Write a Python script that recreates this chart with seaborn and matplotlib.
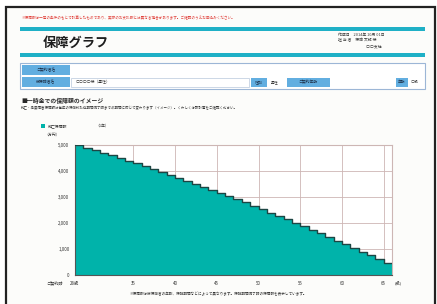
import matplotlib
matplotlib.use("Agg")
import matplotlib.pyplot as plt
from matplotlib.patches import Rectangle
import seaborn as sns

# data (万円, by age)
ages = list(range(28, 67))
coverage = [5000, 4900, 4800, 4700, 4600, 4500, 4400, 4290, 4180, 4070,
            3960, 3850, 3740, 3630, 3510, 3390, 3270, 3150, 3030, 2910,
            2790, 2660, 2530, 2400, 2270, 2140, 2010, 1880, 1740, 1600,
            1460, 1320, 1180, 1040, 900, 760, 620, 480, 480]
y_ticks = [0, 1000, 2000, 3000, 4000, 5000]
y_labels = ["0", "1,000", "2,000", "3,000", "4,000", "5,000"]
x_ticks = [28, 35, 40, 45, 50, 55, 60, 65]
x_labels = ["28歳", "35", "40", "45", "50", "55", "60", "65"]

sns.set_theme(style="white")
plt.rcParams["font.family"] = ["Noto Sans CJK JP", "DejaVu Sans"]

teal = "#00b3aa"
bar_col = "#1fb0c6"
cell_blue = "#62aee0"
grid_col = "#cdb6b4"

W, H = 437, 304
fig = plt.figure(figsize=(W / 100, H / 100), dpi=100)

# page background drawn in pixel coordinates
bg = fig.add_axes([0, 0, 1, 1])
bg.set_xlim(0, W)
bg.set_ylim(H, 0)
bg.axis("off")
bg.add_patch(Rectangle((6, 7), 429, 310, facecolor="#fcfcfa", edgecolor="#222222", lw=1.6))

# header
bg.text(22, 18, "※保障額は一定の条件のもとで計算したものであり、実際のお支払額とは異なる場合があります。ご確認のうえお申込みください。",
        color="#e0403a", fontsize=2.6, va="center")
bg.add_patch(Rectangle((20, 26.5), 405, 4, color=bar_col, lw=0))
bg.text(43, 43, "保障グラフ", fontsize=9.5, fontweight="bold", color="#1e1e1e", va="center")
for i, line in enumerate(["作成日　2014年 10月 01日", "担 当 者　保険 太郎 様", "　　　　　　　 ○○支社"]):
    bg.text(338, 35 + i * 5.5, line, fontsize=2.8, color="#333333", va="center")
bg.add_patch(Rectangle((20, 53), 405, 4, color=bar_col, lw=0))

# info box
bg.add_patch(Rectangle((20, 63), 405, 26, facecolor="white", edgecolor="#9cb6d6", lw=0.8))
bg.add_patch(Rectangle((22, 65), 48, 10, color=cell_blue, lw=0))
bg.text(46, 70, "ご契約者名", fontsize=2.8, ha="center", va="center", color="#1c2c44")
bg.add_patch(Rectangle((22, 77), 48, 10, color=cell_blue, lw=0))
bg.text(46, 82, "被保険者名", fontsize=2.8, ha="center", va="center", color="#1c2c44")
bg.add_patch(Rectangle((71, 77.5), 178, 9, facecolor="white", edgecolor="#b8c8dc", lw=0.5))
bg.text(76, 82, "○○○○様（男性）", fontsize=2.8, va="center", color="#333333")
for x0, w, txt in [(251, 16, "性別"), (287, 43, "ご契約年齢"), (396, 12, "年齢")]:
    bg.add_patch(Rectangle((x0, 77.5), w, 9, color=cell_blue, lw=0))
    bg.text(x0 + w / 2, 82, txt, fontsize=2.8, ha="center", va="center", color="#1c2c44")
bg.text(275, 82, "男性", fontsize=2.8, ha="center", va="center", color="#333333")
bg.text(415, 82, "○歳", fontsize=2.8, ha="center", va="center", color="#333333")

# section heading
bg.text(21, 101, "■一時金での保障額のイメージ", fontsize=4.2, fontweight="bold", color="#2a2a2a", va="center")
bg.text(21, 108, "死亡・高度障害保障額は毎年の保険料払込期間満了時までの期間に応じて変わります（イメージ）。くわしくは設計書をご確認ください。",
        fontsize=2.5, color="#333333", va="center")
bg.add_patch(Rectangle((41, 124), 4, 4, color=teal, lw=0))
bg.text(48, 126, "死亡保障額", fontsize=2.8, color="#333333", va="center")
bg.text(95, 126, "（1年）", fontsize=2.8, color="#333333", va="center")
bg.text(44, 135, "（万円）", fontsize=2.8, color="#333333", va="center")
bg.text(55, 283, "ご契約時", fontsize=3.0, color="#333333", ha="center", va="center")
bg.text(398, 283, "(歳)", fontsize=3.0, color="#333333", ha="center", va="center")
bg.text(218, 294, "※保障額は被保険者の年齢、保険期間などによって異なります。保険期間満了時の保障額を表示しています。",
        fontsize=2.6, color="#333333", ha="center", va="center")

# chart
ax = fig.add_axes([75 / W, (H - 275) / H, 317 / W, 130 / H])
ax.fill_between(ages, coverage, step="post", color=teal, lw=0, zorder=2)
sns.lineplot(x=ages, y=coverage, drawstyle="steps-post", color="#1d4644", lw=1.0, ax=ax, zorder=3)
ax.set_xlim(28, 66)
ax.set_ylim(0, 5000)
ax.set_xticks(x_ticks, x_labels)
ax.set_yticks(y_ticks, y_labels)
ax.tick_params(labelsize=3.2, colors="#333333", length=0, pad=4)
ax.grid(True, color=grid_col, lw=0.6, zorder=1)
ax.set_facecolor("white")
for side in ["top", "right"]:
    ax.spines[side].set_color(grid_col)
    ax.spines[side].set_linewidth(0.8)
for side in ["left", "bottom"]:
    ax.spines[side].set_color("#555555")
    ax.spines[side].set_linewidth(0.8)
ax.set_axisbelow(True)

fig.savefig("out.png", dpi=100)
